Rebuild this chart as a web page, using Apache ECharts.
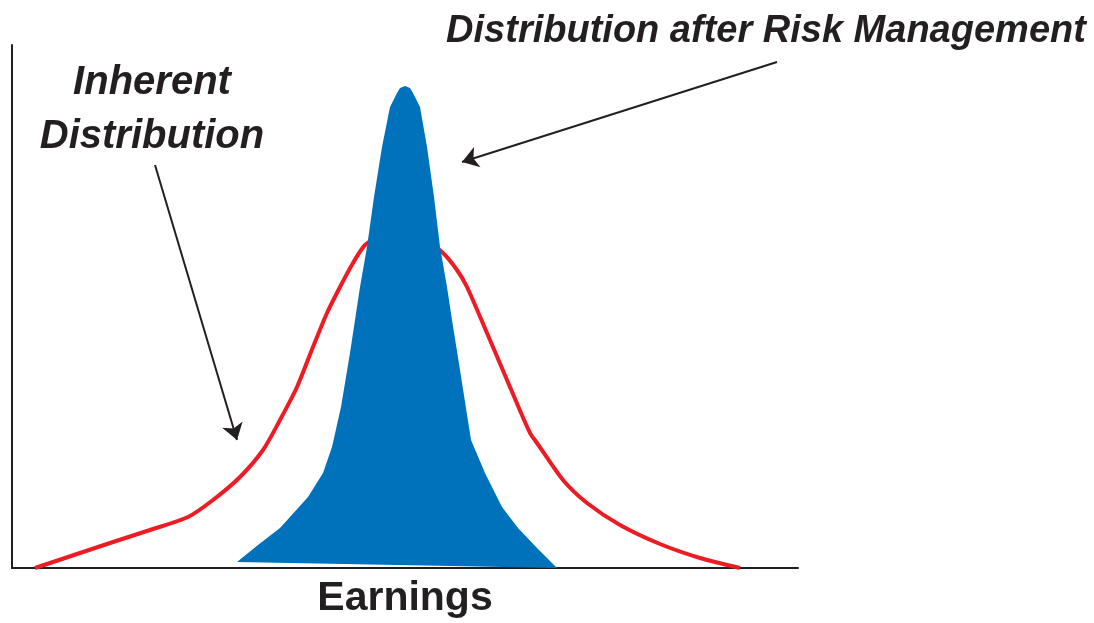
<!DOCTYPE html>
<html><head><meta charset="utf-8">
<script src="https://cdn.jsdelivr.net/npm/echarts@6/dist/echarts.min.js"></script>
<style>html,body{margin:0;padding:0;background:#fff}#c{width:1094px;height:623px}</style>
</head><body><div id="c"></div>
<script>
// Earnings axis (arbitrary units) and density (arbitrary units)
const inherentX = [23,98,138,176,201,228,251,268,285,301,315,328,341,353,368,388,408,430,445,455,475,498,518,525,551,575,608,648,688,728];
const inherentY = [0,25,38,51,68,91,118,148,181,221,255,281,305,323,332,336,332,316,298,281,235,181,135,125,88,65,43,24,10,0];
// outline of the managed distribution (closed shape)
const managedX = [225,246,268,296,311,320,329,338,348,355,362,370,378,385,388,393,398,401,408,415,422,428,435,440,448,459,473,490,506,525,545];
const managedY = [6,23,40,71,95,121,161,215,281,321,371,421,461,475,480,482,480,475,461,421,371,321,281,248,198,128,95,61,40,20,0];
// annotation arrows [from, to]
const arrowInherent = [[143,403],[225,128]];
const arrowManaged = [[765,506],[450,406]];
const labels = {inherent: 'Inherent\nDistribution', managed: 'Distribution after Risk Management', axis: 'Earnings'};

const FONT = '"Liberation Sans Narrow","Liberation Sans",Arial,sans-serif';
const ink = '#231f20';
const chart = echarts.init(document.getElementById('c'));
const redData = inherentX.map((x,i)=>[x,inherentY[i]]);
const bluePts = managedX.map((x,i)=>[x,managedY[i]]);
chart.setOption({
  animation:false,
  grid:{left:12, top:45, width:786, height:523, outerBoundsMode:'none', containLabel:false},
  xAxis:{type:'value', min:0, max:786, axisLine:{show:true, onZero:false, lineStyle:{color:ink,width:2}},
    axisTick:{show:false}, axisLabel:{show:false}, splitLine:{show:false},
    name:labels.axis, nameLocation:'middle', nameGap:10,
    nameTextStyle:{fontFamily:FONT, fontWeight:'bold', fontSize:41, color:ink, verticalAlign:'top'}},
  yAxis:{type:'value', min:0, max:523, axisLine:{show:true, onZero:false, lineStyle:{color:ink,width:2}},
    axisTick:{show:false}, axisLabel:{show:false}, splitLine:{show:false}},
  series:[
    {type:'line', data:redData, smooth:0.25, showSymbol:false, z:2,
      lineStyle:{color:'#ed1c24', width:4}},
    {type:'custom', z:3, data:[0], renderItem:function(params, api){
        const pts = bluePts.map(p=>api.coord(p));
        return {type:'polygon', shape:{points:pts, smooth:0}, style:{fill:'#0071bb'}};
      }},
    {type:'lines', coordinateSystem:'cartesian2d', z:4, symbol:['none','arrow'], symbolSize:[10,16],
      lineStyle:{color:ink, width:2, opacity:1},
      data:[{coords:arrowInherent},{coords:arrowManaged}]}
  ],
  graphic:[
    {type:'text', x:152, y:56, style:{text:labels.inherent, font:'italic bold 40px '+FONT, fill:ink, align:'center', lineHeight:54}},
    {type:'text', x:766, y:13, style:{text:labels.managed, font:'italic bold 38px '+FONT, fill:ink, align:'center'}}
  ]
});
</script></body></html>
